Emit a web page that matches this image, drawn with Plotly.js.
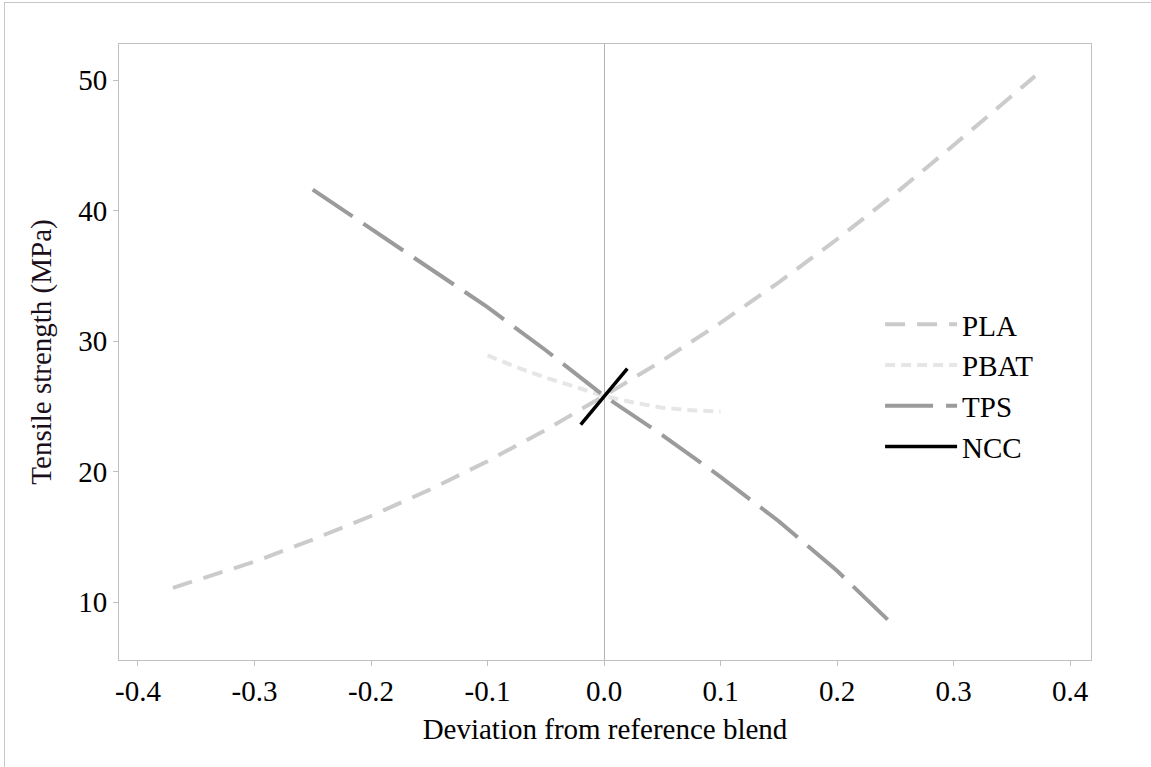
<!DOCTYPE html>
<html>
<head>
<meta charset="utf-8">
<script src="https://cdn.plot.ly/plotly-3.0.1.min.js"></script>
<style>
  html, body { margin: 0; padding: 0; background: #fff; }
  #chart { width: 1151px; height: 767px; }
  #frame { position: absolute; left: 4px; top: 2px; width: 2000px; height: 2000px;
           border-top: 1px solid #c8c8c8; border-left: 1px solid #c8c8c8; pointer-events: none; }
</style>
</head>
<body>
<div id="chart"></div>
<div id="frame"></div>
<script>
// ---- data ----
const seriesNames = ["PLA", "PBAT", "TPS", "NCC"];

const plaX = [-0.37, -0.3, -0.25, -0.2, -0.15, -0.1, -0.05, 0, 0.05, 0.1, 0.15, 0.2, 0.25, 0.3, 0.37];
const plaY = [11.1, 13.1, 14.8, 16.6, 18.6, 20.8, 23.2, 25.8, 28.5, 31.4, 34.5, 37.8, 41.3, 45.0, 50.3];

const pbatX = [-0.1, -0.075, -0.05, -0.025, 0, 0.025, 0.05, 0.075, 0.1];
const pbatY = [28.9, 28.0, 27.2, 26.5, 25.8, 25.3, 24.9, 24.7, 24.6];

const tpsX = [-0.25, -0.2, -0.15, -0.1, -0.05, 0, 0.05, 0.1, 0.15, 0.2, 0.25];
const tpsY = [41.6, 38.6, 35.6, 32.6, 29.3, 25.8, 22.8, 19.6, 16.2, 12.4, 8.1];

const nccX = [-0.02, -0.01, 0, 0.01, 0.02];
const nccY = [23.6, 24.7, 25.8, 26.8, 27.9];

const xTickVals = [-0.4, -0.3, -0.2, -0.1, 0, 0.1, 0.2, 0.3, 0.4];
const xTickText = ["-0.4", "-0.3", "-0.2", "-0.1", "0.0", "0.1", "0.2", "0.3", "0.4"];
const yTickVals = [10, 20, 30, 40, 50];
const yTickText = ["10", "20", "30", "40", "50"];

const xTitle = "Deviation from reference blend";
const yTitle = "Tensile strength (MPa)";

// ---- chart ----
const FONT = '"Liberation Serif", "Times New Roman", serif';
const axisGray = "#c0c0c0";

const traces = [
  { x: plaX, y: plaY, name: seriesNames[0], mode: "lines",
    line: { color: "#cbcbcb", width: 4, dash: "20px,12px" } },
  { x: pbatX, y: pbatY, name: seriesNames[1], mode: "lines",
    line: { color: "#e6e6e6", width: 4, dash: "10px,6px" } },
  { x: tpsX, y: tpsY, name: seriesNames[2], mode: "lines",
    line: { color: "#9b9b9b", width: 4, dash: "48px,13px" } },
  { x: nccX, y: nccY, name: seriesNames[3], mode: "lines",
    line: { color: "#000000", width: 3.5 } }
];

const layout = {
  width: 1151, height: 767,
  paper_bgcolor: "#ffffff", plot_bgcolor: "#ffffff",
  font: { family: FONT, size: 29, color: "#000" },
  margin: { l: 119, r: 60, t: 44, b: 107, pad: 0 },
  showlegend: true,
  legend: {
    x: 0.783, y: 0.586, xanchor: "left", yanchor: "top",
    bgcolor: "rgba(0,0,0,0)", borderwidth: 0,
    font: { family: FONT, size: 29, color: "#000" },
    itemwidth: 72, tracegroupgap: 0
  },
  xaxis: {
    range: [-0.4163, 0.418],
    tickvals: xTickVals, ticktext: xTickText,
    ticks: "outside", ticklen: 5, tickwidth: 1, tickcolor: axisGray,
    showline: true, linecolor: axisGray, linewidth: 1, mirror: true,
    showgrid: false,
    zeroline: true, zerolinecolor: "#b4b4b4", zerolinewidth: 1,
    tickfont: { family: FONT, size: 29, color: "#000" },
    title: { text: xTitle, font: { family: FONT, size: 29, color: "#000" }, standoff: 12 }
  },
  yaxis: {
    range: [5.57, 52.76],
    tickvals: yTickVals, ticktext: yTickText,
    ticks: "outside", ticklen: 5, tickwidth: 1, tickcolor: axisGray,
    showline: true, linecolor: axisGray, linewidth: 1, mirror: true,
    showgrid: false, zeroline: false,
    tickfont: { family: FONT, size: 29, color: "#000" },
    title: { text: yTitle, font: { family: FONT, size: 29, color: "#1a0f1a" }, standoff: 18 }
  }
};

Plotly.newPlot("chart", traces, layout, { displayModeBar: false, staticPlot: true });
</script>
</body>
</html>
